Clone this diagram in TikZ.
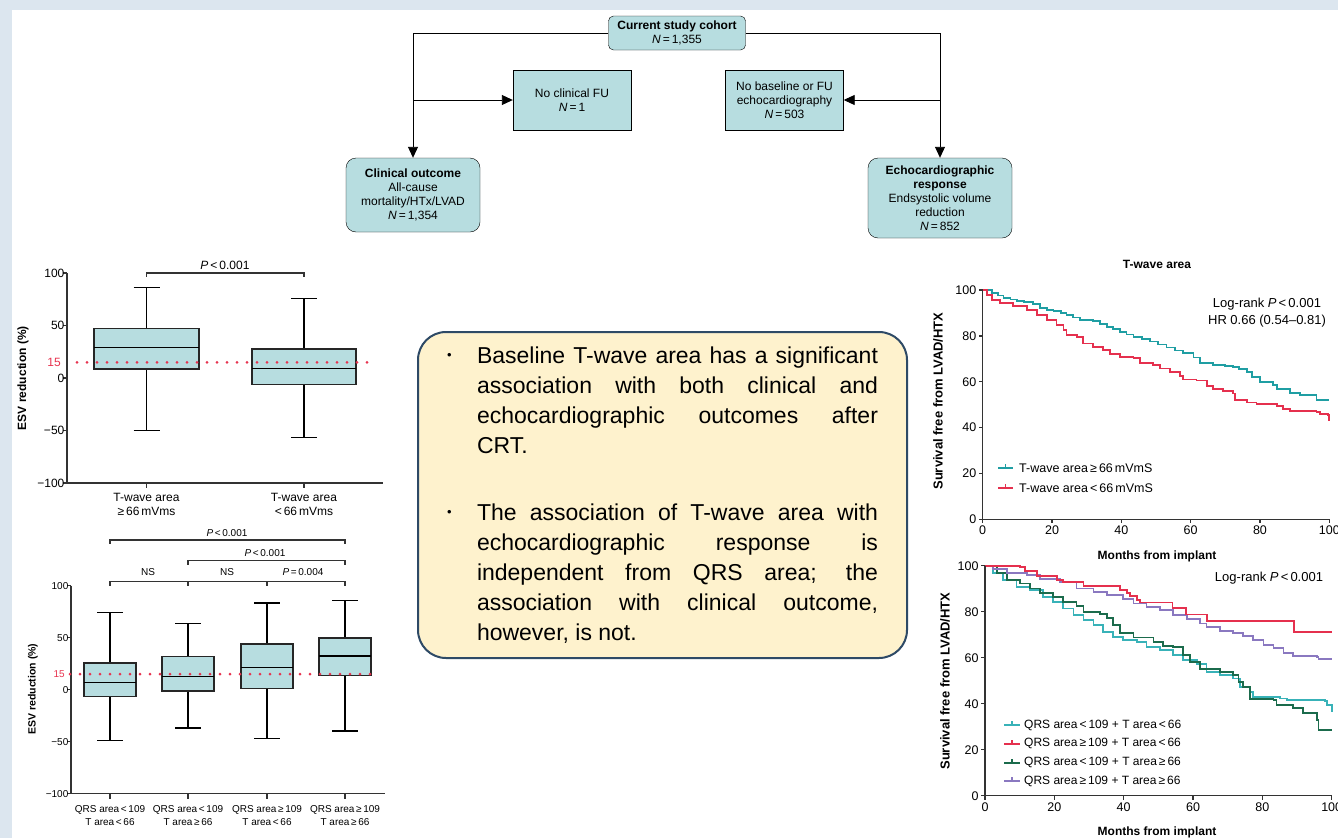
\documentclass[tikz,border=0pt]{standalone}
\usepackage{fontspec}
\setmainfont{Liberation Sans}
\usepackage{xcolor}
\usepackage{tikz}
\usetikzlibrary{shapes,arrows.meta,positioning}
\usetikzlibrary{calc}

\definecolor{pageblue}{HTML}{DCE6EF}
\definecolor{cellteal}{HTML}{B7DDE0}
\definecolor{notecream}{HTML}{FEF2CD}
\definecolor{notenavy}{HTML}{2E4A66}
\definecolor{dotred}{HTML}{E8334F}
\definecolor{kmteal}{HTML}{1F9EA3}
\definecolor{kmred}{HTML}{E5304E}
\definecolor{kmgreen}{HTML}{1B6B4C}
\definecolor{kmpurple}{HTML}{8A78C0}
\definecolor{kmcyan}{HTML}{38B2B8}

% box with whiskers: x, q1, median, q3, low, high, half width
\newcommand{\esvbox}[7]{%
  \draw[Whisker] (#1,#5) -- (#1,#2) (#1,#4) -- (#1,#6);
  \draw[Whisker] (#1-13,#5) -- (#1+13,#5) (#1-13,#6) -- (#1+13,#6);
  \filldraw[EsvBox] (#1-#7,#2) rectangle (#1+#7,#4);
  \draw[Whisker] (#1-#7,#3) -- (#1+#7,#3);
}

\begin{document}
\begin{tikzpicture}
  [
    x=1pt, y=-1pt,
    Cohort/.style={draw=black, fill=cellteal, rounded corners=5pt, align=center, minimum width=137pt, minimum height=34pt, inner sep=2pt, font=\fontsize{12}{14}\selectfont},
    Plain/.style={draw=black, fill=cellteal, align=center, minimum width=118pt, minimum height=60pt, inner sep=2pt, font=\fontsize{12}{14}\selectfont},
    Outcome/.style={draw=black, fill=cellteal, rounded corners=10pt, align=center, inner sep=2pt, font=\fontsize{12}{14}\selectfont},
    Flow/.style={draw, line width=0.9pt, -{Triangle[length=11pt, width=10pt]}},
    Note/.style={draw=notenavy, line width=2pt, fill=notecream, rounded corners=28pt, minimum width=489pt, minimum height=326pt, inner sep=0pt},
    Axis/.style={draw=black!80, line width=1.3pt},
    Whisker/.style={draw=black, line width=1.5pt},
    EsvBox/.style={draw=black!85, fill=cellteal, line width=1.5pt},
    RefDots/.style={draw=dotred, line width=3pt, line cap=round, dash pattern=on 0pt off 10pt},
    Bracket/.style={draw=black!80, line width=1.2pt},
    KmLine/.style={line width=1.8pt},
    TickA/.style={font=\fontsize{12}{14}\selectfont, inner sep=2pt},
    TickB/.style={font=\fontsize{10}{13}\selectfont, inner sep=2pt},
    TickC/.style={font=\fontsize{12.5}{15}\selectfont, inner sep=2pt},
    Legend/.style={font=\fontsize{12.5}{15}\selectfont, anchor=west, inner sep=1pt}
  ]
  \useasboundingbox (0,0) rectangle (1338,838);
  \fill[pageblue] (0,0) rectangle (1338,838);
  \fill[white] (12,10) rectangle (1338,838);

  % Nodes
  \node[Cohort] (cohort) at (677,33) {\textbf{Current study cohort}\\\textit{N}\,=\,1,355};
  \node[Plain] (nofu) at (572,100) {No clinical FU\\\textit{N}\,=\,1};
  \node[Plain] (noecho) at (784.5,100) {No baseline or FU\\echocardiography\\\textit{N}\,=\,503};
  \node[Outcome, minimum width=134pt, minimum height=74pt] (clin) at (413,195) {\textbf{Clinical outcome}\\All-cause\\mortality/HTx/LVAD\\\textit{N}\,=\,1,354};
  \node[Outcome, minimum width=144pt, minimum height=80pt] (echo) at (940,198) {\textbf{Echocardiographic}\\\textbf{response}\\Endsystolic volume\\reduction\\\textit{N}\,=\,852};

  % Lines
  \path[Flow] (cohort.west) -| (clin.north);
  \path[Flow] (cohort.east) -| (echo.north);
  \path[Flow] (clin.north |- nofu.west) -- (nofu.west);
  \path[Flow] (echo.north |- noecho.east) -- (noecho.east);

  % Summary
  \node[Note] (note) at (662.5,495) {\begin{minipage}{431pt}
      \fontsize{23}{30}\selectfont\setlength{\parindent}{0pt}%
      \hangindent=30pt\hangafter=1
      \makebox[30pt][l]{\raisebox{4pt}{\fontsize{13}{13}\selectfont\textbullet}}Baseline T-wave area has a significant\linebreak
      association with both clinical and\linebreak
      echocardiographic outcomes after\linebreak
      CRT.\par
      \vspace{37pt}
      \hangindent=30pt\hangafter=1
      \makebox[30pt][l]{\raisebox{4pt}{\fontsize{13}{13}\selectfont\textbullet}}The association of T-wave area with\linebreak
      echocardiographic response is\linebreak
      independent from QRS area; the\linebreak
      association with clinical outcome,\linebreak
      however, is not.\par
    \end{minipage}};

  % ESV reduction, T-wave area
  \node[rotate=90, font=\bfseries\fontsize{12}{14}\selectfont] (esvA) at (23,378) {ESV reduction (\%)};
  \begin{scope}[shift={(0,378)}, y=1.05pt]
    \esvbox{146.5}{8.6}{29}{47.2}{-50}{86}{52.5}
    \esvbox{304}{-6}{8.9}{27.8}{-56.8}{75.6}{52}
    \draw[Axis] (67,100) -- (67,-100) -- (383,-100);
    \foreach \v/\t in {100/100,50/50,0/0,-50/−50,-100/−100}
      \draw[Axis] (63,\v) -- (67,\v) node[TickA, anchor=east] (yA\v) {\t};
    \node[TickA, anchor=east, text=dotred] (yA15) at (63,15) {15};
    \foreach \x in {146.5,304}
      \draw[Axis] (\x,-100) -- (\x,-104.8);
    \draw[Bracket] (146.5,96.2) -- (146.5,100) -- (304,100) -- (304,96.2);
    \node[TickA] (pA) at (225,107.6) {\textit{P}\,<\,0.001};
    \draw[RefDots] (77,15) -- (377,15);
  \end{scope}
  \node[TickA, align=center] (xA1) at (146.5,504.5) {T-wave area\\≥\,66\,mVms};
  \node[TickA, align=center] (xA2) at (304,504.5) {T-wave area\\<\,66\,mVms};

  % ESV reduction, QRS area and T-wave area
  \node[rotate=90, font=\bfseries\fontsize{10.5}{12}\selectfont] (esvB) at (33,689) {ESV reduction (\%)};
  \begin{scope}[shift={(0,689.7)}, y=1.04pt]
    \esvbox{110}{-6.7}{6.7}{25.6}{-49}{74}{26}
    \esvbox{188}{-1}{12.5}{32}{-36.8}{63.7}{26}
    \esvbox{267}{1}{21.4}{43.8}{-46.7}{83.5}{26}
    \esvbox{345}{13.8}{32.6}{49.6}{-39.7}{86}{26}
    \draw[Axis] (71,100) -- (71,-100) -- (385,-100);
    \foreach \v/\t in {100/100,50/50,0/0,-50/−50,-100/−100}
      \draw[Axis] (67,\v) -- (71,\v) node[TickB, anchor=east] (yB\v) {\t};
    \node[TickB, anchor=east, text=dotred] (yB15) at (67,15) {15};
    \foreach \x in {110,188,267,345}
      \draw[Axis] (\x,-100) -- (\x,-104.8);
    \draw[Bracket] (110,100) -- (110,103.8) -- (345,103.8) -- (345,100);
    \draw[Bracket] (188,100) -- (188,103.8) (267,100) -- (267,103.8);
    \draw[Bracket] (188,120.2) -- (188,124) -- (345,124) -- (345,120.2);
    \draw[Bracket] (110,140.2) -- (110,144) -- (345,144) -- (345,140.2);
    \node[TickB] (ns1) at (148,113) {NS};
    \node[TickB] (ns2) at (227,113) {NS};
    \node[TickB] (pB1) at (303,113) {\textit{P}\,=\,0.004};
    \node[TickB] (pB2) at (265,131) {\textit{P}\,<\,0.001};
    \node[TickB] (pB3) at (227,151) {\textit{P}\,<\,0.001};
    \draw[RefDots] (70,15) -- (380,15);
  \end{scope}
  \node[TickB, align=center] (xB1) at (110,815.5) {QRS area\,<\,109\\T area\,<\,66};
  \node[TickB, align=center] (xB2) at (188,815.5) {QRS area\,<\,109\\T area\,≥\,66};
  \node[TickB, align=center] (xB3) at (267,815.5) {QRS area\,≥\,109\\T area\,<\,66};
  \node[TickB, align=center] (xB4) at (345,815.5) {QRS area\,≥\,109\\T area\,≥\,66};

  % Survival, T-wave area
  \node[font=\bfseries\fontsize{12}{14}\selectfont] (kmAtitle) at (1157,264) {T-wave area};
  \node[rotate=90, font=\bfseries\fontsize{13}{15}\selectfont] (kmAy) at (938,401) {Survival free from LVAD/HTX};
  \node[font=\bfseries\fontsize{12}{14}\selectfont] (kmAx) at (1157,556) {Months from implant};
  \begin{scope}[shift={(982.7,519.3)}, x=3.466pt, y=2.293pt]
    \draw[KmLine, kmteal] plot[const plot] coordinates {(0,100) (2.6,98.8) (4.5,97.6) (6,96.6) (8,95.9) (9.8,95.3) (12,94.6) (14.6,93.9) (16.5,92) (18.5,91.4) (20.4,90.8) (22.5,90) (24.2,89.1) (26,88) (28,86.9) (31.9,86.5) (33.8,85.2) (35.8,84) (37.6,82.9) (39.6,81.8) (41.5,80.6) (43.5,79.4) (46,78.5) (48.3,77.5) (50.5,76.2) (53,74.9) (55.5,73.6) (57.9,72.4) (60.8,70.6) (62.7,68.3) (66.5,67.3) (70,66.7) (72.3,66.3) (74,65.4) (76.2,64.4) (77.6,61.9) (80,60) (83.8,58.6) (84.8,56.7) (88.7,55.2) (91.5,54.2) (96.3,52) (100,52)};
    \draw[KmLine, kmred] plot[const plot] coordinates {(0,100) (1.2,97.8) (2.6,95.6) (5,94.2) (8.8,93) (12.7,91.3) (15.6,89.1) (18.5,86.9) (21.3,84.7) (23.3,82.6) (24.2,80.4) (27.1,79.4) (29,76.7) (31.9,75.3) (34.8,73.8) (36.7,72.1) (39.6,70.9) (43.5,70.2) (45.4,68) (49.2,67.3) (51.2,65.8) (54,64.4) (56.9,62.5) (57.9,61) (61.7,60.5) (64.6,58.1) (66.5,56.7) (69.4,56.1) (72.3,54.9) (72.8,52) (76.2,50.9) (79,50.3) (84.8,49.4) (86.7,48) (88.7,47.2) (96.3,46.9) (97.3,45.8) (99.7,45.5) (100,43)};
    \draw[Axis] (0,100) -- (0,0) -- (100,0);
    \foreach \v in {0,20,...,100}
      \draw[Axis] (0,\v) -- (-1.1,\v) node[TickC, anchor=east] (yC\v) {\v};
    \foreach \m in {0,20,...,100}
      \draw[Axis] (\m,0) -- (\m,-1.7) node[TickC, anchor=north] (xC\m) {\m};
  \end{scope}
  \node[TickC, align=center, font=\fontsize{13}{17}\selectfont] (rankA) at (1267,312.5) {Log-rank \textit{P}\,<\,0.001\\HR 0.66 (0.54–0.81)};
  \draw[KmLine, kmteal] (998,468) -- (1013,468) (1005.5,468) -- (1005.5,464);
  \node[Legend] (legA1) at (1018,468) {T-wave area\,≥\,66\,mVmS};
  \draw[KmLine, kmred] (998,488) -- (1013,488) (1005.5,488) -- (1005.5,484);
  \node[Legend] (legA2) at (1018,488) {T-wave area\,<\,66\,mVmS};

  % Survival, QRS area and T-wave area
  \node[rotate=90, font=\bfseries\fontsize{13}{15}\selectfont] (kmBy) at (945,681) {Survival free from LVAD/HTX};
  \node[font=\bfseries\fontsize{12}{14}\selectfont] (kmBx) at (1157,832) {Months from implant};
  \begin{scope}[shift={(985,795.7)}, x=3.467pt, y=2.3pt]
    \draw[KmLine, kmcyan] plot[const plot] coordinates {(0,100) (2.4,96.7) (5.3,93.8) (9.1,90.9) (13,89.4) (16.8,86.5) (19.7,84.3) (22.6,81.4) (25.5,78.6) (28.4,76.4) (31.3,74.2) (34.1,71.3) (37,69.1) (39.9,67.7) (43.8,67) (46.6,64.8) (50.5,63.3) (54.3,61.2) (57.2,59) (61.1,57.1) (63.9,53.9) (67.8,52.5) (71.6,51) (73.6,47.4) (76.4,45.2) (77.4,43) (85.1,42.3) (87,41.6) (98.1,41.3) (98.6,39.4) (100,36.5)};
    \draw[KmLine, kmgreen] plot[const plot] coordinates {(0,100) (3.4,96.7) (6.3,93.8) (10.1,92.3) (13,90.1) (15.9,88) (19.7,86.5) (22.6,84.3) (26.4,82.6) (28.4,80) (33.2,79) (35.1,77.1) (37,74.2) (38.9,70.6) (42.8,68.8) (48.6,67) (51.4,65.2) (54.3,64.5) (57.2,61.2) (59.1,58.3) (62,55.1) (67.8,53.9) (71.6,52.5) (73.1,49.6) (74.5,47.1) (76.4,41.9) (83.2,41.6) (84.1,39.4) (88.9,38) (91.8,35.8) (95.7,32.9) (96.2,28.6) (100,28.6)};
    \draw[KmLine, kmpurple] plot[const plot] coordinates {(0,100) (2.4,98.4) (6.3,97) (12,96) (15.9,94.2) (21.6,92.8) (26.4,90.1) (31.3,88.7) (35.1,87.2) (39.9,85.5) (42.8,83.6) (46.6,82.2) (50.5,80.7) (54.3,78.6) (58.2,76.7) (62,74.9) (63.9,73.2) (67.8,71.6) (71.6,70.6) (74.5,69.4) (77.4,67.7) (80.3,65.5) (83.2,64.1) (86.1,61.9) (88.9,60.7) (95.7,60.4) (96.2,59.4) (100,59.4)};
    \draw[KmLine, kmred] plot[const plot] coordinates {(0,100) (10.1,99.6) (11.5,97.8) (14.9,95.5) (20.7,93.8) (22.6,92.8) (28.4,91.2) (38.9,89.4) (40.9,88.3) (41.8,87) (43.8,85) (44.7,84) (54.1,81.7) (58,78.8) (64.1,75.9) (89.1,71.3) (100,71.3)};
    \draw[Axis] (0,100) -- (0,0) -- (100,0);
    \foreach \v in {0,20,...,100}
      \draw[Axis] (0,\v) -- (-1.1,\v) node[TickC, anchor=east] (yD\v) {\v};
    \foreach \m in {0,20,...,100}
      \draw[Axis] (\m,0) -- (\m,-1.7) node[TickC, anchor=north] (xD\m) {\m};
  \end{scope}
  \node[font=\fontsize{13}{15}\selectfont] (rankB) at (1269,578) {Log-rank \textit{P}\,<\,0.001};
  \foreach \c/\t [count=\i] in {kmcyan/{QRS area\,<\,109 + T area\,<\,66}, kmred/{QRS area\,≥\,109 + T area\,<\,66}, kmgreen/{QRS area\,<\,109 + T area\,≥\,66}, kmpurple/{QRS area\,≥\,109 + T area\,≥\,66}}
  {
    \draw[KmLine, \c] (1004,706.5+\i*18.7) -- (1020,706.5+\i*18.7) (1012,706.5+\i*18.7) -- (1012,702.5+\i*18.7);
    \node[Legend, font=\fontsize{12}{14}\selectfont] (legB\i) at (1023,706.5+\i*18.7) {\t};
  }
\end{tikzpicture}
\end{document}
